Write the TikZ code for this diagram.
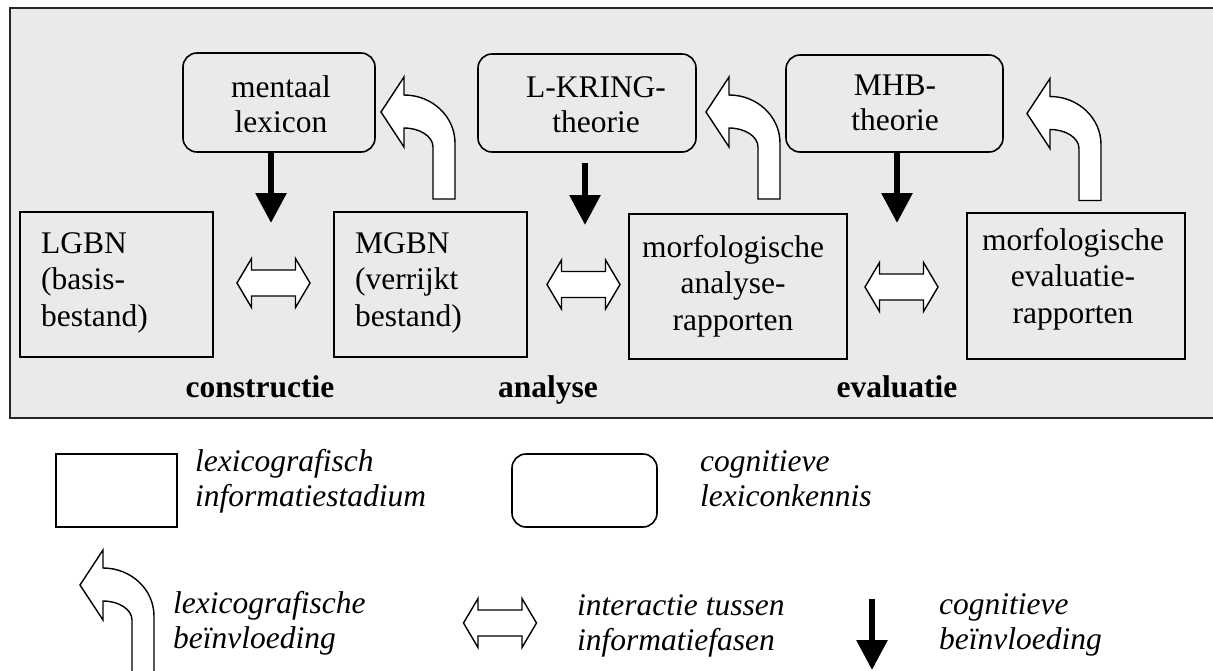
\documentclass[tikz,border=0pt]{standalone}
\usepackage{fontspec}
\setmainfont{Liberation Serif}
\usetikzlibrary{arrows.meta,calc}
\definecolor{panelgray}{RGB}{234,234,234}
% several lines of text whose node baseline is the first line
\newcommand\txtlines[2][c]{\begin{tabular}[t]{@{}#1@{}}#2\end{tabular}}

\tikzset{
  stage/.style={draw=black, line width=1.6pt, inner sep=0pt},
  stagebox/.style={stage, rectangle},
  knowbox/.style={stage, rectangle, rounded corners=14pt},
  boxtext/.style={inner sep=0pt, anchor=base, font=\fontsize{31.5}{36.5}\selectfont},
  boxtextl/.style={boxtext, anchor=base west},
  knowtext/.style={inner sep=0pt, anchor=base, font=\fontsize{31.5}{35}\selectfont},
  phase/.style={inner sep=0pt, anchor=base, font=\fontsize{31.5}{36}\selectfont\bfseries},
  legendtext/.style={inner sep=0pt, anchor=base west, font=\fontsize{31.5}{35}\selectfont\itshape},
  cogarrow/.style={line width=6pt, -{Triangle[length=30pt,width=30pt]}},
  shapeline/.style={draw=black, line width=1.4pt, fill=white, line join=miter},
  pics/interact/.style={code={
    \path[shapeline] (-36.5,0) -- (-22,-24.5) -- (-22,-13) -- (22,-13) -- (22,-24.5)
      -- (36.5,0) -- (22,24.5) -- (22,13) -- (-22,13) -- (-22,24.5) -- cycle;
  }},
  pics/feedback/.style={code={
    \path[shapeline] (0,0) -- (23,-35) -- (23,-17)
      .. controls (51.2,-17) and (74,4.5) .. (74,31) -- (74,87) -- (52,87) -- (52,35)
      .. controls (52,24.5) and (39,16) .. (23,16) -- (23,35) -- cycle;
  }}
}

\begin{document}
\begin{tikzpicture}[x=1pt,y=-1pt]
\useasboundingbox (0,0) rectangle (1213,670);

% grey panel holding the three phases
\fill[panelgray] (10,8) rectangle (1230,418);
\draw[line width=2pt, black!85] (1230,8) -- (10,8) -- (10,418) -- (1230,418);

% cognitive knowledge
\node[knowbox, minimum width=192pt, minimum height=99pt] (ml) at (279,102.5) {};
\node[knowbox, minimum width=218pt, minimum height=98pt] (lk) at (587,103) {};
\node[knowbox, minimum width=217pt, minimum height=97pt] (mhb) at (894.5,103.5) {};
\node[knowtext] (mltext) at (281,97) {\txtlines{mentaal\\lexicon}};
\node[knowtext] (lktext) at (596,97) {\txtlines{L-KRING-\\theorie}};
\node[knowtext] (mhbtext) at (895,95) {\txtlines{MHB-\\theorie}};

% lexicographic information stages
\node[stagebox, minimum width=193pt, minimum height=145pt] (lgbn) at (116.5,284.5) {};
\node[stagebox, minimum width=193pt, minimum height=145pt] (mgbn) at (430.5,284.5) {};
\node[stagebox, minimum width=218pt, minimum height=145pt] (mar) at (738,286.5) {};
\node[stagebox, minimum width=218pt, minimum height=146pt] (mer) at (1076,286) {};
\node[boxtextl] (lgbntext) at (41,253) {\txtlines[l]{LGBN\\(basis-\\bestand)}};
\node[boxtextl] (mgbntext) at (355,253) {\txtlines[l]{MGBN\\(verrijkt\\bestand)}};
\node[boxtext] (martext) at (733,257) {\txtlines{morfologische\\analyse-\\rapporten}};
\node[boxtext] (mertext) at (1073,250) {\txtlines{morfologische\\evaluatie-\\rapporten}};

% phase names
\node[phase] (constr) at (260,397) {constructie};
\node[phase] (anal) at (548,397) {analyse};
\node[phase] (eval) at (897,397) {evaluatie};

% cognitive influence
\coordinate (mltip) at (271,223);
\coordinate (lkfoot) at (585,163);
\coordinate (lktip) at (585,225);
\coordinate (mhbtip) at (897,223);
\draw[cogarrow] (ml.south -| mltip) -- (mltip);
\draw[cogarrow] (lkfoot) -- (lktip);
\draw[cogarrow] (mhb.south -| mhbtip) -- (mhbtip);

% interaction between information phases
\pic (ia1) at (273.5,283) {interact};
\pic (ia2) at (583.5,284.5) {interact};
\pic (ia3) at (901.5,287) {interact};

% lexicographic influence
\pic (fb1) at (381,112) {feedback};
\pic (fb2) at (706,112) {feedback};
\pic (fb3) at (1027,113.5) {feedback};

% legend
\node[stagebox, minimum width=121pt, minimum height=73pt] (legstage) at (116.5,490.5) {};
\node[legendtext] (legstagetext) at (195,471) {\txtlines[l]{lexicografisch\\informatiestadium}};
\node[knowbox, minimum width=145pt, minimum height=73pt] (legknow) at (584.5,490.5) {};
\node[legendtext] (legknowtext) at (700,471) {\txtlines[l]{cognitieve\\lexiconkennis}};

\pic (legfb) at (80,585) {feedback};
\node[legendtext] (legfbtext) at (173,613) {\txtlines[l]{lexicografische\\beïnvloeding}};
\pic (legia) at (500,623) {interact};
\node[legendtext] (legiatext) at (577,615) {\txtlines[l]{interactie tussen\\informatiefasen}};
\coordinate (legcogtop) at (872,599);
\coordinate (legcogtip) at (872,670);
\draw[cogarrow] (legcogtop) -- (legcogtip);
\node[legendtext] (legcogtext) at (939,614) {\txtlines[l]{cognitieve\\beïnvloeding}};
\end{tikzpicture}
\end{document}
